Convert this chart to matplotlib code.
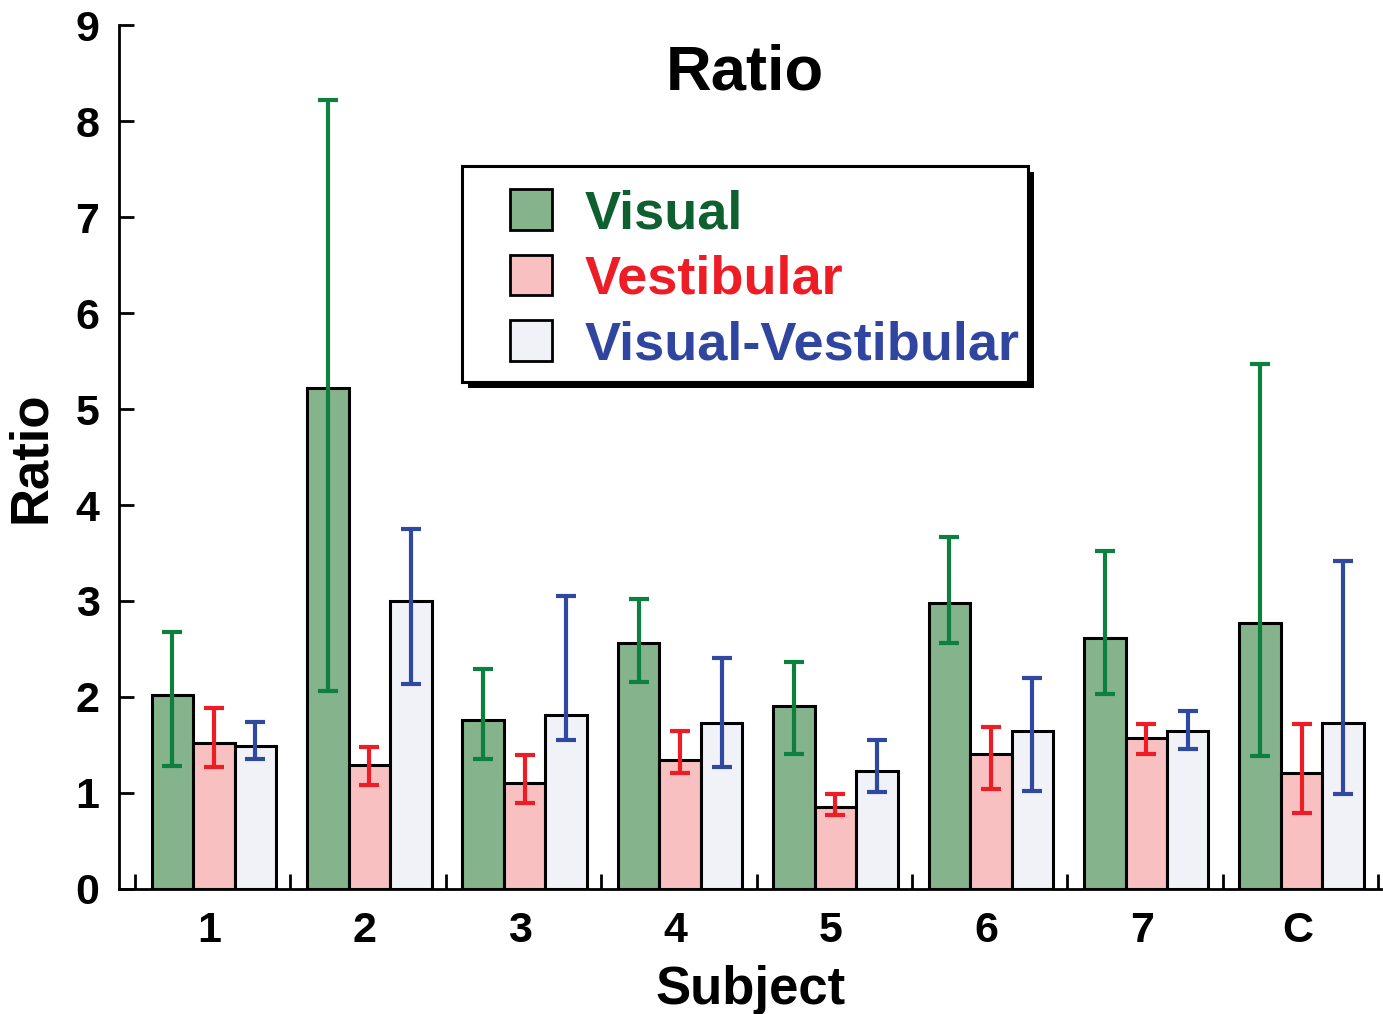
import matplotlib
matplotlib.use('Agg')
import matplotlib.pyplot as plt
import numpy as np
from matplotlib.patches import Rectangle

plt.rcParams['font.family'] = ['Liberation Sans', 'DejaVu Sans']
plt.rcParams['font.weight'] = 'bold'

subjects = ['1', '2', '3', '4', '5', '6', '7', 'C']

visual = [2.02, 5.22, 1.76, 2.56, 1.91, 2.98, 2.61, 2.77]
visual_lo = [1.28, 2.06, 1.35, 2.16, 1.41, 2.56, 2.03, 1.39]
visual_hi = [2.68, 8.22, 2.29, 3.02, 2.36, 3.67, 3.52, 5.47]

vest = [1.52, 1.29, 1.10, 1.34, 0.85, 1.41, 1.57, 1.21]
vest_lo = [1.27, 1.08, 0.90, 1.21, 0.77, 1.04, 1.41, 0.79]
vest_hi = [1.89, 1.48, 1.40, 1.65, 0.99, 1.69, 1.72, 1.72]

vv = [1.49, 3.00, 1.81, 1.73, 1.23, 1.65, 1.65, 1.73]
vv_lo = [1.35, 2.14, 1.55, 1.27, 1.01, 1.02, 1.46, 0.99]
vv_hi = [1.74, 3.75, 3.05, 2.41, 1.55, 2.20, 1.85, 3.42]

labels = ['Visual', 'Vestibular', 'Visual-Vestibular']
fills = ['#84b38c', '#f8c0c1', '#f1f2f8']
errc = ['#0d8040', '#ee1c25', '#2f49a0']
textc = ['#0f6030', '#ee1c25', '#2f45a0']

fig = plt.figure(figsize=(13.83, 10.14), dpi=100)
ax = fig.add_axes([0.086, 0.1233, 0.9127, 0.852])

x = np.arange(len(subjects))
w = 0.267
series = [(visual, visual_lo, visual_hi), (vest, vest_lo, vest_hi), (vv, vv_lo, vv_hi)]
handles = []
for k, (vals, lo, hi) in enumerate(series):
    pos = x + (k - 1) * w + 0.008
    vals = np.array(vals)
    yerr = [vals - np.array(lo), np.array(hi) - vals]
    b = ax.bar(pos, vals, w, color=fills[k], edgecolor='black', linewidth=2.2, zorder=2)
    ax.errorbar(pos, vals, yerr=yerr, fmt='none', ecolor=errc[k], elinewidth=3,
                capsize=7, capthick=3, zorder=3)
    handles.append(b)

ax.set_xlim(-0.603, 7.52)
ax.set_ylim(0, 9)
ax.spines['top'].set_visible(False)
ax.spines['right'].set_visible(False)
for s in ['left', 'bottom']:
    ax.spines[s].set_linewidth(2)

ax.set_yticks(range(10))
ax.tick_params(axis='y', direction='in', length=11, width=2, pad=14, labelsize=31)
ax.set_xticks(x - 0.02)
ax.set_xticklabels(subjects)
ax.tick_params(axis='x', which='major', length=0, pad=16, labelsize=31)
ax.set_xticks(np.arange(-0.5, 8, 1), minor=True)
ax.tick_params(axis='x', which='minor', direction='in', length=11, width=2)
for t in ax.get_yticklabels() + ax.get_xticklabels():
    t.set_fontweight('bold')

ax.set_xlabel('Subject', fontsize=38, fontweight='bold', labelpad=10)
ax.set_ylabel('Ratio', fontsize=38, fontweight='bold', labelpad=14)
ax.text(0.496, 0.945, 'Ratio', transform=ax.transAxes, ha='center', va='center',
        fontsize=45.5, fontweight='bold')

leg = ax.legend(handles, labels, loc='upper left', bbox_to_anchor=(0.31, 0.81),
                borderaxespad=0, fontsize=39, labelcolor=textc, frameon=False,
                handlelength=0.78, handleheight=0.78, handletextpad=0.6,
                labelspacing=0.28, borderpad=0)
for t in leg.get_texts():
    t.set_fontweight('bold')
for p in leg.get_patches():
    p.set_linewidth(2)
leg.set_zorder(6)

# frame + hard black shadow drawn around the legend
fig.canvas.draw()
bb = leg.get_window_extent()
fx0, fx1 = bb.x0 - 48, bb.x1 + 8
fy0, fy1 = bb.y0 - 12, bb.y1 + 23
shadow = Rectangle((fx0 + 6, fy0 - 6), fx1 - fx0, fy1 - fy0, transform=None,
                   facecolor='black', edgecolor='none', zorder=4)
frame = Rectangle((fx0, fy0), fx1 - fx0, fy1 - fy0, transform=None,
                  facecolor='white', edgecolor='black', linewidth=2.2, zorder=5)
ax.add_artist(shadow)
ax.add_artist(frame)

fig.savefig('out.png', dpi=100)
